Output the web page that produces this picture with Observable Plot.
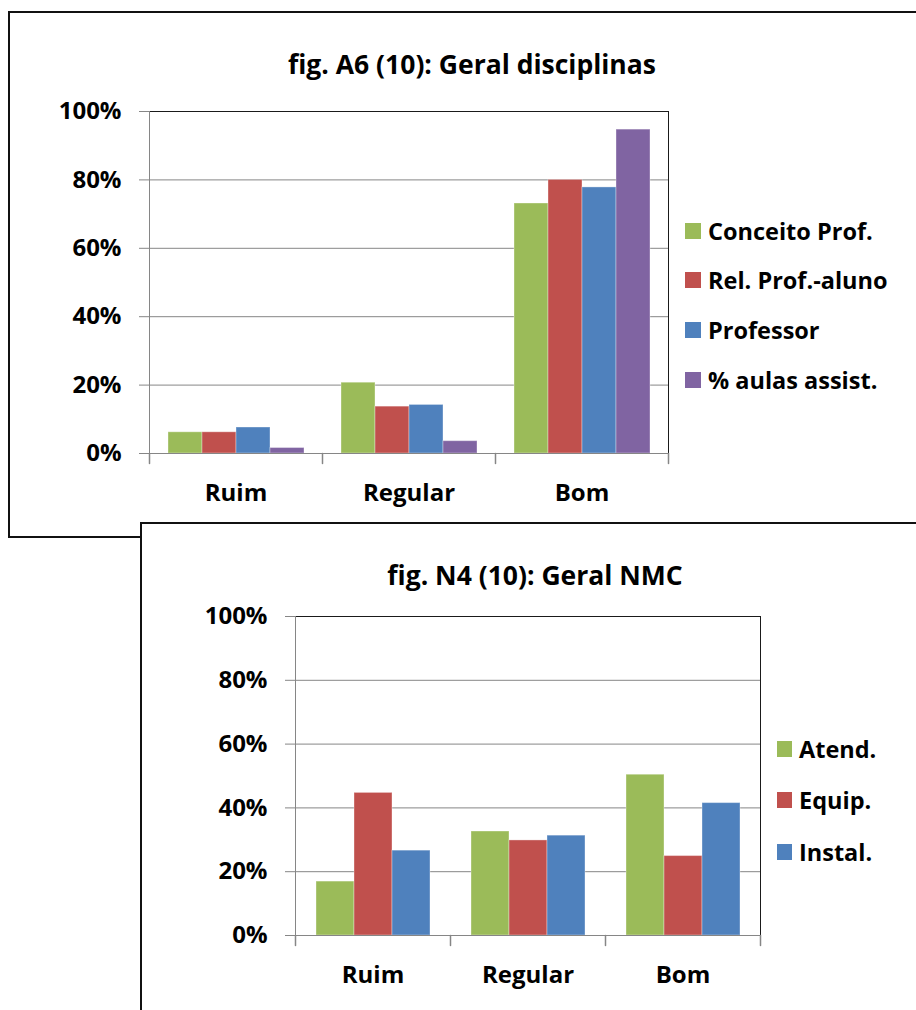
<!DOCTYPE html>
<html><head><meta charset="utf-8">
<script src="https://cdn.jsdelivr.net/npm/d3@7"></script>
<script src="https://cdn.jsdelivr.net/npm/@observablehq/plot@0.6"></script>
<style>
body{margin:0;background:#fff;}
#page{position:relative;width:916px;height:1010px;overflow:hidden;font-family:"Open Sans",Lato,sans-serif;font-weight:bold;color:#000;}
.box{position:absolute;border:2px solid #111;background:#fff;box-sizing:border-box;}
.box svg{position:absolute;left:0;top:0;overflow:visible;}
.title{position:absolute;white-space:nowrap;transform:translate(-50%,-50%);font-size:26.5px;line-height:32px;}
.leg{position:absolute;display:flex;align-items:center;white-space:nowrap;font-size:23.5px;line-height:30px;transform:translateY(-50%);}
.leg .sw{display:inline-block;width:16px;height:16px;margin-right:7px;}
</style></head><body><div id="page"></div>
<script>
// ---- data ----
const categories = ["Ruim", "Regular", "Bom"];

const titleA = "fig. A6 (10): Geral disciplinas";
const seriesA = ["Conceito Prof.", "Rel. Prof.-aluno", "Professor", "% aulas assist."];
const conceitoProf = [0.062, 0.207, 0.731];
const relProfAluno = [0.062, 0.137, 0.800];
const professor = [0.076, 0.142, 0.778];
const aulasAssist = [0.016, 0.036, 0.947];
const colorsA = ["#9BBB59", "#C0504D", "#4F81BD", "#8064A2"];

const titleB = "fig. N4 (10): Geral NMC";
const seriesB = ["Atend.", "Equip.", "Instal."];
const atend = [0.169, 0.326, 0.504];
const equip = [0.447, 0.298, 0.249];
const instal = [0.266, 0.313, 0.415];
const colorsB = ["#9BBB59", "#C0504D", "#4F81BD"];

const yTicks = [0, 0.2, 0.4, 0.6, 0.8, 1];

// ---- build ----
const FONT = '"Open Sans", Lato, sans-serif';
const gray = "#868686", dark = "#1a1a1a";
const fmt = d3.format(".0%");

function rowsOf(series, values) {
  const rows = [];
  series.forEach((s, j) => categories.forEach((c, i) => rows.push({cat: c, series: s, value: values[j][i]})));
  return rows;
}

const tickShape = {draw(ctx, l) { ctx.moveTo(0, 0); ctx.lineTo(0, -l); }};

function makeChart(rows, series, colors, d) {
  const last = categories[categories.length - 1];
  return Plot.plot({
    width: d.width, height: d.height,
    marginLeft: d.ml, marginRight: d.mr, marginTop: d.mt, marginBottom: d.mb,
    style: {fontFamily: FONT, fontWeight: "bold", fontSize: "24px", color: "#000", background: "transparent", overflow: "visible"},
    fx: {domain: categories, padding: 0, label: null},
    x: {domain: series, paddingInner: 0, paddingOuter: 0.5, axis: null},
    y: {domain: [0, 1], label: null},
    color: {domain: series, range: colors},
    marks: [
      Plot.gridY(yTicks, {stroke: gray, strokeOpacity: 1}),
      Plot.barY(rows, {fx: "cat", x: "series", y: "value", fill: "series", stroke: "#fff", strokeOpacity: 0.35, strokeWidth: 1}),
      Plot.ruleY([0], {stroke: gray}),
      Plot.ruleY([1], {stroke: dark}),
      Plot.frame({anchor: "left", stroke: gray, fx: categories[0]}),
      Plot.frame({anchor: "right", stroke: dark, fx: last}),
      Plot.vector(categories, {fx: (c) => c, frameAnchor: "bottom-left", length: 10, rotate: 180, anchor: "start", shape: tickShape, stroke: gray}),
      Plot.vector([last], {fx: (c) => c, frameAnchor: "bottom-right", length: 10, rotate: 180, anchor: "start", shape: tickShape, stroke: gray}),
      Plot.axisY(yTicks, {tickSize: 10, tickPadding: 18, tickFormat: fmt, stroke: gray, fill: "#000", fontSize: 24, fontWeight: "bold", label: null}),
      Plot.axisFx({anchor: "bottom", tickSize: 0, tickPadding: 30, fontSize: 24, fontWeight: "bold", label: null})
    ]
  });
}

const page = document.getElementById("page");
function makeBox(left, top, w, h, z) {
  const b = document.createElement("div");
  b.className = "box";
  Object.assign(b.style, {left: left + "px", top: top + "px", width: w + "px", height: h + "px", zIndex: z});
  page.appendChild(b);
  return {el: b, ox: left + 2, oy: top + 2};
}
function addTitle(box, text, cx, cy) {
  const t = document.createElement("div");
  t.className = "title";
  t.textContent = text;
  Object.assign(t.style, {left: (cx - box.ox) + "px", top: (cy - box.oy) + "px"});
  box.el.appendChild(t);
}
function addLegend(box, series, colors, x, ys, sw) {
  series.forEach((s, i) => {
    const it = document.createElement("div");
    it.className = "leg";
    Object.assign(it.style, {left: (x - box.ox) + "px", top: (ys[i] - box.oy) + "px"});
    const sq = document.createElement("span");
    sq.className = "sw";
    Object.assign(sq.style, {background: colors[i], width: sw + "px"});
    const tx = document.createElement("span");
    tx.textContent = s;
    it.append(sq, tx);
    box.el.appendChild(it);
  });
}

// Chart A
const boxA = makeBox(8, 11, 1000, 527, 1);
const svgA = makeChart(rowsOf(seriesA, [conceitoProf, relProfAluno, professor, aulasAssist]), seriesA, colorsA,
  {width: 906, height: 523, ml: 138, mr: 247, mt: 98, mb: 83});
boxA.el.appendChild(svgA);
addTitle(boxA, titleA, 472, 64);
addLegend(boxA, seriesA, colorsA, 685, [231, 280, 330, 380], 16);

// Chart B
const boxB = makeBox(140, 522, 1000, 600, 2);
const svgB = makeChart(rowsOf(seriesB, [atend, equip, instal]), seriesB, colorsB,
  {width: 774, height: 486, ml: 153, mr: 156, mt: 92, mb: 75});
boxB.el.appendChild(svgB);
addTitle(boxB, titleB, 535, 575);
addLegend(boxB, seriesB, colorsB, 777, [749, 800, 852], 15);
</script>
</body></html>
